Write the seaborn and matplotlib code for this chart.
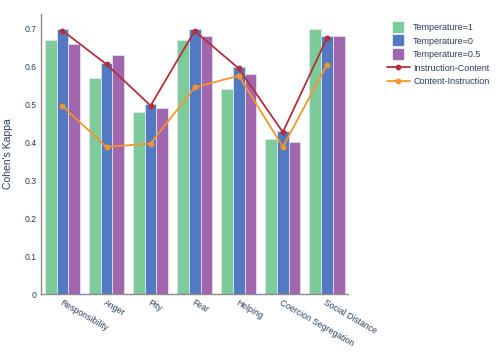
import matplotlib
matplotlib.use("Agg")
import matplotlib.pyplot as plt
import seaborn as sns
import pandas as pd
import numpy as np
from matplotlib.lines import Line2D

categories = ["Responsibility", "Anger", "Pity", "Fear", "Helping",
              "Coercion Segregation", "Social Distance"]
temp_1 = [0.67, 0.57, 0.48, 0.67, 0.54, 0.41, 0.70]
temp_0 = [0.70, 0.61, 0.50, 0.70, 0.60, 0.43, 0.68]
temp_05 = [0.66, 0.63, 0.49, 0.68, 0.58, 0.40, 0.68]
instr_content = [0.695, 0.606, 0.497, 0.694, 0.595, 0.427, 0.675]
content_instr = [0.496, 0.388, 0.397, 0.545, 0.576, 0.388, 0.605]

series = ["Temperature=1", "Temperature=0", "Temperature=0.5"]
bar_colors = ["#7ccc9b", "#5279c1", "#a066ae"]
line_colors = ["#b0313a", "#f5952a"]
text_color = "#2a3f5f"

sns.set_style("white")
plt.rcParams["font.family"] = ["Liberation Sans", "DejaVu Sans"]

df = pd.DataFrame({
    "category": categories * 3,
    "kappa": temp_1 + temp_0 + temp_05,
    "series": [s for s in series for _ in categories],
})

fig = plt.figure(figsize=(4.98, 3.56), dpi=100)
ax = fig.add_axes([0.082, 0.174, 0.617, 0.787])

sns.barplot(data=df, x="category", y="kappa", hue="series", hue_order=series,
            palette=bar_colors, width=0.8, edgecolor="#e6e1f2", linewidth=0.6,
            saturation=1, ax=ax, legend=False)

pos = np.arange(len(categories))
ax.plot(pos, instr_content, color=line_colors[0], lw=1.3, marker="o", ms=3.2)
ax.plot(pos, content_instr, color=line_colors[1], lw=1.3, marker="o", ms=3.2)

ax.set_xlim(-0.49, 6.48)
ax.set_ylim(0, 0.739)
ax.set_yticks([0, 0.1, 0.2, 0.3, 0.4, 0.5, 0.6, 0.7])
ax.set_yticklabels(["0", "0.1", "0.2", "0.3", "0.4", "0.5", "0.6", "0.7"])
ax.tick_params(axis="both", length=0, labelsize=6.2, colors=text_color, pad=3)
ax.set_xticks(pos)
ax.set_xticklabels(categories, rotation=-30, ha="left", rotation_mode="anchor")
ax.set_xlabel("")
ax.set_ylabel("Cohen's Kappa", fontsize=7.5, color=text_color, labelpad=8)

for s in ["top", "right"]:
    ax.spines[s].set_visible(False)
for s in ["left", "bottom"]:
    ax.spines[s].set_color("#8c8c8c")
    ax.spines[s].set_linewidth(1.0)

# legend: square swatches for bars, line+dot for lines
handles = [Line2D([0], [0], color=c, ls="none", marker="s", ms=6.5) for c in bar_colors]
handles += [Line2D([0], [0], color=c, lw=1.3, marker="o", ms=3.2) for c in line_colors]
labels = series + ["Instruction-Content", "Content-Instruction"]
fig.legend(handles, labels, loc="upper left", bbox_to_anchor=(0.768, 0.948),
           frameon=False, fontsize=6.5, labelcolor=text_color, handlelength=2.5,
           labelspacing=0.5, handletextpad=0.4, borderpad=0)

fig.savefig("out.png", dpi=100)
